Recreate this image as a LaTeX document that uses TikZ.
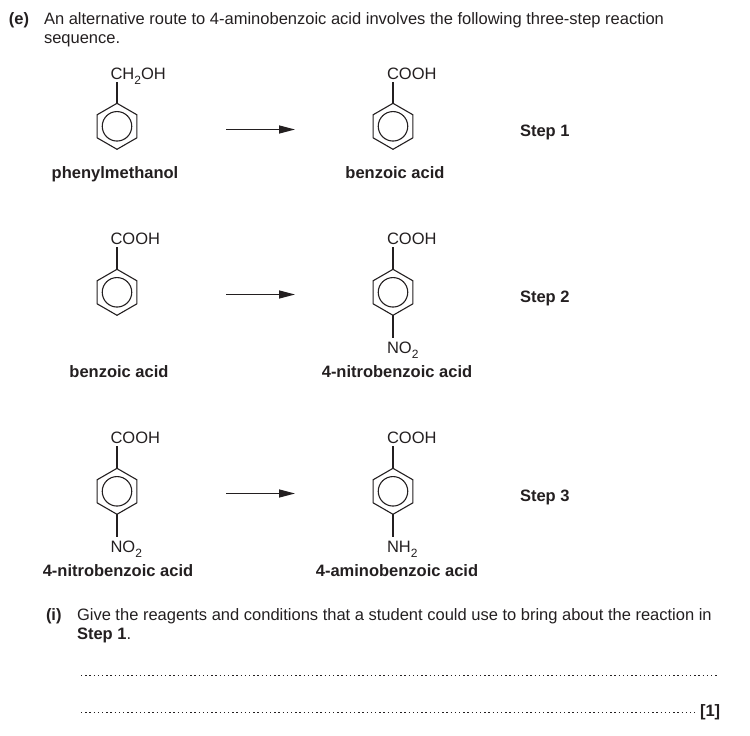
\documentclass[tikz,border=0pt]{standalone}
\usepackage{fontspec}
\setmainfont{Liberation Sans}
\usetikzlibrary{shapes.geometric,arrows.meta}
\definecolor{ink}{HTML}{231F20}
\newcommand{\subtwo}{\raisebox{-0.33em}{\fontsize{12}{12}\selectfont 2}}
\tikzset{
  x=1pt,y=-1pt,
  txt/.style={anchor=base west,inner sep=0,outer sep=0,text=ink,font=\fontsize{16.5}{19}\selectfont},
  boldtxt/.style={txt,font=\fontsize{16.5}{19}\selectfont\bfseries},
  lab/.style={boldtxt,anchor=base},
  formula/.style={txt},
  ring/.style={regular polygon,regular polygon sides=6,shape border rotate=30,minimum size=46pt,inner sep=0,outer sep=0,draw=ink,line width=1.1pt},
  inner/.style={circle,minimum size=29.5pt,inner sep=0,outer sep=0,draw=ink,line width=1.1pt},
  bond/.style={draw=ink,line width=1.1pt},
  rxn/.style={draw=ink,line width=1.4pt,-{Triangle[length=16pt,width=8pt]}},
  ruled/.style={draw=ink,line width=1.5pt,dash pattern=on 1.3pt off 2.9pt},
}
\newcommand{\benz}[3]{\node[ring] (#1) at (#2,#3) {};\node[inner] (#1c) at (#2,#3) {};}
\begin{document}
\begin{tikzpicture}
\useasboundingbox (0,0) rectangle (750,736);
\node[boldtxt] (e) at (9,24.7) {(e)};
\node[txt] (t1) at (44,24.7) {An alternative route to 4-aminobenzoic acid involves the following three-step reaction};
\node[txt] (t2) at (44,43.2) {sequence.};
% row 1
\benz{a}{117}{126.3}
\benz{b}{393}{126.3}
\node[formula] (af) at (110.5,79) {CH\subtwo OH};
\node[formula] (bf) at (387,79) {COOH};
\draw[bond] (a.north) -- (117,82);
\draw[bond] (b.north) -- (393,82);
\coordinate (s1) at (226,129.5); \coordinate (e1) at (295,129.5);
\draw[rxn] (s1) -- (e1);
\node[boldtxt] (st1) at (520,136) {Step 1};
\node[lab] (al) at (115,178) {phenylmethanol};
\node[lab] (bl) at (395,178) {benzoic acid};
% row 2
\benz{c}{117}{292.3}
\benz{d}{393}{292.3}
\node[formula] (cf) at (110.5,244) {COOH};
\node[formula] (df) at (387,244) {COOH};
\node[formula] (dn) at (387,353) {NO\subtwo};
\draw[bond] (c.north) -- (117,247);
\draw[bond] (d.north) -- (393,247);
\draw[bond] (d.south) -- (393,338);
\coordinate (s2) at (226,294.5); \coordinate (e2) at (295,294.5);
\draw[rxn] (s2) -- (e2);
\node[boldtxt] (st2) at (520,302) {Step 2};
\node[lab] (cl) at (119,377) {benzoic acid};
\node[lab] (dl) at (397,377) {4-nitrobenzoic acid};
% row 3
\benz{f}{117}{491.3}
\benz{g}{393}{491.3}
\node[formula] (ff) at (110.5,443) {COOH};
\node[formula] (gf) at (387,443) {COOH};
\node[formula] (fn) at (110.5,552) {NO\subtwo};
\node[formula] (gn) at (387,552) {NH\subtwo};
\draw[bond] (f.north) -- (117,446);
\draw[bond] (g.north) -- (393,446);
\draw[bond] (f.south) -- (117,537);
\draw[bond] (g.south) -- (393,537);
\coordinate (s3) at (226,493.5); \coordinate (e3) at (295,493.5);
\draw[rxn] (s3) -- (e3);
\node[boldtxt] (st3) at (520,501) {Step 3};
\node[lab] (fl) at (118,576) {4-nitrobenzoic acid};
\node[lab] (gl) at (397,576) {4-aminobenzoic acid};
% question
\node[boldtxt] (i) at (46,620.7) {(i)};
\node[txt] (q1) at (77,620.7) {Give the reagents and conditions that a student could use to bring about the reaction in};
\node[txt] (q2) at (77,639.2) {\textbf{Step 1}.};
\coordinate (l1a) at (81,675.5); \coordinate (l1b) at (718,675.5);
\coordinate (l2a) at (81,712.5); \coordinate (l2b) at (695,712.5);
\draw[ruled] (l1a) -- (l1b);
\draw[ruled] (l2a) -- (l2b);
\node[boldtxt] (m) at (700,716) {[1]};
\end{tikzpicture}
\end{document}
